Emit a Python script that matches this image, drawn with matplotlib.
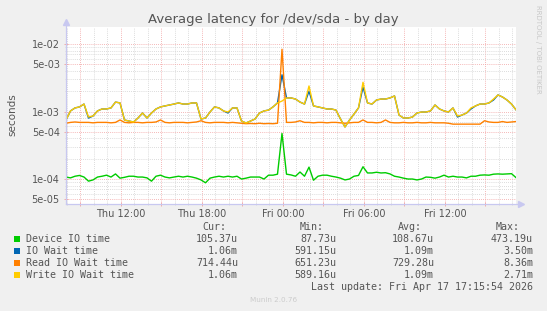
import matplotlib
matplotlib.use('Agg')
import matplotlib.pyplot as plt
import matplotlib.dates as mdates
from matplotlib.ticker import FixedLocator, NullFormatter, FuncFormatter
from matplotlib.patches import Rectangle
from datetime import datetime, timedelta

# ---------------- data ----------------
start = datetime(2026, 4, 16, 7, 55, 54)
end = datetime(2026, 4, 17, 17, 15, 54)
step_min = 20

device_io = [
    1.07e-4, 1.04e-4, 1.10e-4, 1.13e-4, 1.07e-4, 9.3e-5, 9.7e-5, 1.07e-4, 1.10e-4, 1.14e-4,
    1.07e-4, 1.19e-4, 1.03e-4, 1.06e-4, 1.10e-4, 1.10e-4, 1.07e-4, 1.07e-4, 1.04e-4, 9.3e-5,
    1.10e-4, 1.14e-4, 1.07e-4, 1.04e-4, 1.07e-4, 1.10e-4, 1.07e-4, 1.10e-4, 1.07e-4, 1.03e-4,
    9.7e-5, 8.8e-5, 1.03e-4, 1.07e-4, 1.10e-4, 1.07e-4, 1.10e-4, 1.07e-4, 1.10e-4, 1.00e-4,
    1.03e-4, 1.07e-4, 1.07e-4, 1.07e-4, 1.00e-4, 1.14e-4, 1.14e-4, 1.18e-4, 4.73e-4, 1.18e-4,
    1.15e-4, 1.10e-4, 1.27e-4, 1.10e-4, 1.50e-4, 9.6e-5, 1.10e-4, 1.14e-4, 1.14e-4, 1.10e-4,
    1.07e-4, 1.03e-4, 9.7e-5, 1.00e-4, 1.10e-4, 1.13e-4, 1.52e-4, 1.23e-4, 1.23e-4, 1.26e-4,
    1.23e-4, 1.24e-4, 1.19e-4, 1.10e-4, 1.07e-4, 1.03e-4, 1.00e-4, 1.00e-4, 9.7e-5, 1.00e-4,
    1.07e-4, 1.06e-4, 1.03e-4, 1.07e-4, 1.14e-4, 1.07e-4, 1.10e-4, 1.07e-4, 1.07e-4, 1.04e-4,
    1.10e-4, 1.10e-4, 1.14e-4, 1.15e-4, 1.14e-4, 1.18e-4, 1.19e-4, 1.18e-4, 1.19e-4, 1.20e-4,
    1.05e-4,
]

io_wait = [
    7.48e-4, 1.02e-3, 1.13e-3, 1.17e-3, 1.29e-3, 8.00e-4, 8.58e-4, 1.02e-3, 1.09e-3, 1.09e-3,
    1.13e-3, 1.38e-3, 1.34e-3, 7.48e-4, 7.23e-4, 6.99e-4, 8.01e-4, 9.50e-4, 8.01e-4, 9.50e-4,
    1.09e-3, 1.17e-3, 1.21e-3, 1.25e-3, 1.29e-3, 1.34e-3, 1.29e-3, 1.29e-3, 1.34e-3, 1.34e-3,
    7.74e-4, 8.01e-4, 9.83e-4, 1.17e-3, 1.13e-3, 1.02e-3, 9.50e-4, 1.13e-3, 1.13e-3, 7.23e-4,
    6.76e-4, 7.23e-4, 7.74e-4, 9.50e-4, 1.02e-3, 1.05e-3, 1.17e-3, 1.34e-3, 3.50e-3, 1.59e-3,
    1.59e-3, 1.53e-3, 1.38e-3, 1.29e-3, 2.00e-3, 1.21e-3, 1.17e-3, 1.13e-3, 1.09e-3, 1.09e-3,
    1.05e-3, 7.74e-4, 5.91e-4, 7.48e-4, 9.18e-4, 1.13e-3, 2.30e-3, 1.34e-3, 1.29e-3, 1.48e-3,
    1.53e-3, 1.53e-3, 1.59e-3, 1.70e-3, 8.87e-4, 8.01e-4, 8.01e-4, 8.29e-4, 9.50e-4, 9.83e-4,
    9.83e-4, 1.02e-3, 1.25e-3, 1.09e-3, 1.02e-3, 9.83e-4, 1.13e-3, 8.29e-4, 8.87e-4, 9.50e-4,
    1.09e-3, 1.21e-3, 1.29e-3, 1.29e-3, 1.34e-3, 1.48e-3, 1.76e-3, 1.64e-3, 1.48e-3, 1.29e-3,
    1.06e-3,
]

read_io_wait = [
    6.7e-4, 6.9e-4, 7.0e-4, 6.9e-4, 6.9e-4, 6.9e-4, 6.8e-4, 6.9e-4, 6.9e-4, 6.9e-4,
    6.8e-4, 6.9e-4, 7.5e-4, 6.9e-4, 6.8e-4, 6.9e-4, 6.9e-4, 6.8e-4, 6.9e-4, 6.9e-4,
    7.0e-4, 7.5e-4, 6.9e-4, 6.8e-4, 6.9e-4, 6.9e-4, 6.9e-4, 6.8e-4, 6.9e-4, 7.0e-4,
    7.3e-4, 6.9e-4, 6.8e-4, 6.9e-4, 6.9e-4, 6.9e-4, 6.8e-4, 6.9e-4, 6.8e-4, 6.7e-4,
    6.6e-4, 6.65e-4, 6.6e-4, 6.7e-4, 6.6e-4, 6.65e-4, 6.6e-4, 6.7e-4, 8.36e-3, 6.9e-4,
    6.9e-4, 7.0e-4, 7.3e-4, 6.9e-4, 6.9e-4, 6.8e-4, 6.9e-4, 6.9e-4, 6.8e-4, 6.9e-4,
    6.9e-4, 6.8e-4, 6.7e-4, 6.8e-4, 6.9e-4, 6.9e-4, 7.5e-4, 6.9e-4, 6.9e-4, 6.8e-4,
    6.9e-4, 7.5e-4, 6.9e-4, 6.8e-4, 6.8e-4, 6.9e-4, 6.8e-4, 6.8e-4, 6.9e-4, 6.8e-4,
    6.8e-4, 6.9e-4, 6.8e-4, 6.8e-4, 6.8e-4, 6.7e-4, 6.5e-4, 6.5e-4, 6.5e-4, 6.5e-4,
    6.5e-4, 6.5e-4, 6.5e-4, 7.3e-4, 7.0e-4, 6.9e-4, 6.9e-4, 7.1e-4, 6.9e-4, 7.0e-4,
    7.1e-4,
]

write_io_wait = [
    7.48e-4, 1.02e-3, 1.13e-3, 1.17e-3, 1.29e-3, 8.29e-4, 8.58e-4, 1.02e-3, 1.09e-3, 1.09e-3,
    1.13e-3, 1.38e-3, 1.34e-3, 7.48e-4, 7.23e-4, 6.99e-4, 8.01e-4, 9.50e-4, 8.01e-4, 9.50e-4,
    1.09e-3, 1.17e-3, 1.21e-3, 1.25e-3, 1.29e-3, 1.34e-3, 1.29e-3, 1.29e-3, 1.34e-3, 1.34e-3,
    7.74e-4, 8.01e-4, 9.83e-4, 1.17e-3, 1.13e-3, 1.02e-3, 9.83e-4, 1.13e-3, 1.13e-3, 7.23e-4,
    6.76e-4, 7.23e-4, 7.74e-4, 9.50e-4, 1.02e-3, 1.05e-3, 1.17e-3, 1.34e-3, 1.43e-3, 1.59e-3,
    1.59e-3, 1.53e-3, 1.38e-3, 1.29e-3, 2.39e-3, 1.21e-3, 1.17e-3, 1.13e-3, 1.09e-3, 1.09e-3,
    1.05e-3, 7.74e-4, 5.89e-4, 7.48e-4, 9.18e-4, 1.13e-3, 2.71e-3, 1.34e-3, 1.29e-3, 1.48e-3,
    1.53e-3, 1.53e-3, 1.59e-3, 1.70e-3, 8.87e-4, 8.01e-4, 8.01e-4, 8.29e-4, 9.50e-4, 9.83e-4,
    9.83e-4, 1.02e-3, 1.25e-3, 1.09e-3, 1.02e-3, 9.83e-4, 1.13e-3, 8.58e-4, 8.87e-4, 9.50e-4,
    1.13e-3, 1.21e-3, 1.29e-3, 1.29e-3, 1.34e-3, 1.53e-3, 1.76e-3, 1.64e-3, 1.48e-3, 1.29e-3,
    1.06e-3,
]

series_names = ["Device IO time", "IO Wait time", "Read IO Wait time", "Write IO Wait time"]
series_colors = ["#00CC00", "#0066B3", "#FF8000", "#FFCC00"]
cur_vals = ["105.37u", "1.06m", "714.44u", "1.06m"]
min_vals = ["87.73u", "591.15u", "651.23u", "589.16u"]
avg_vals = ["108.67u", "1.09m", "729.28u", "1.09m"]
max_vals = ["473.19u", "3.50m", "8.36m", "2.71m"]
ytick_vals = [5e-5, 1e-4, 5e-4, 1e-3, 5e-3, 1e-2]
ytick_labels = ["5e-05", "1e-04", "5e-04", "1e-03", "5e-03", "1e-02"]

times = [start + timedelta(minutes=step_min * i) for i in range(len(device_io))]

# ---------------- figure ----------------
W, H = 547, 311
fig = plt.figure(figsize=(W / 100, H / 100), dpi=100, facecolor="#F0F0F0")
L, R, T, B = 66, 516, 27.3, 203.5
ax = fig.add_axes([L / W, 1 - B / H, (R - L) / W, (B - T) / H])
ax.set_facecolor("white")
ax.set_yscale("log")
ymin, ymax = 4.34e-5, 1.768e-2
ax.set_ylim(ymin, ymax)
ax.set_xlim(start, end)

grid_red = "#F2A0A0"
grid_gray = "#D0D0D0"
dots = (0, (1, 1.5))

# vertical grid: hourly gray, every 3h red
h = datetime(2026, 4, 16, 8)
while h <= end:
    c = grid_red if h.hour % 3 == 0 else grid_gray
    ax.axvline(h, color=c, lw=0.6, ls=dots, zorder=0)
    h += timedelta(hours=1)

# horizontal grid
for d in range(-5, -1):
    for m in range(1, 10):
        v = m * 10.0 ** d
        if ymin < v < ymax:
            c = grid_red if m in (1, 5) else grid_gray
            ax.axhline(v, color=c, lw=0.6, ls=dots, zorder=0)

for vals, col in zip([device_io, io_wait, read_io_wait, write_io_wait], series_colors):
    ax.plot(times, vals, color=col, lw=1.0, zorder=3)

# axes styling
for s in ["top", "right", "left", "bottom"]:
    ax.spines[s].set_visible(False)
axis_col = "#C8C8F0"
ax.plot([0, 0], [0, 1.02], transform=ax.transAxes, color=axis_col, lw=0.9, clip_on=False, zorder=5)
ax.plot([0, 1.01], [0, 0], transform=ax.transAxes, color=axis_col, lw=0.9, clip_on=False, zorder=5)
ax.plot([0], [1.03], transform=ax.transAxes, marker="^", ms=4, color=axis_col, clip_on=False, zorder=5)
ax.plot([1.012], [0], transform=ax.transAxes, marker=">", ms=4, color=axis_col, clip_on=False, zorder=5)

ax.yaxis.set_major_locator(FixedLocator(ytick_vals))
ax.set_yticklabels(ytick_labels)
ax.yaxis.set_minor_formatter(NullFormatter())
ax.tick_params(axis="y", which="major", length=3, width=0.6, color=grid_red, direction="inout",
               labelsize=7, labelcolor="#555555", pad=3)
ax.tick_params(axis="y", which="minor", length=2, width=0.5, color=grid_gray, direction="inout")

ax.xaxis.set_major_locator(mdates.HourLocator(byhour=range(0, 24, 3)))
ax.xaxis.set_minor_locator(mdates.HourLocator())
def fmt(x, pos):
    dt = mdates.num2date(x)
    return dt.strftime("%a %H:%M") if dt.hour % 6 == 0 else ""
ax.xaxis.set_major_formatter(FuncFormatter(fmt))
ax.tick_params(axis="x", which="major", length=3, width=0.6, color=grid_red, direction="inout",
               labelsize=7, labelcolor="#555555", pad=2.5)
ax.tick_params(axis="x", which="minor", length=2, width=0.5, color=grid_gray, direction="inout")

# texts
fig.text(273.5 / W, 1 - 19 / H, "Average latency for /dev/sda - by day", ha="center", va="center",
         fontsize=9.5, color="#555555")
fig.text(12 / W, 1 - 115 / H, "seconds", rotation=90, ha="center", va="center", fontsize=7.5, color="#555555")
fig.text(538 / W, 1 - 5 / H, "RRDTOOL / TOBI OETIKER", rotation=270, ha="center", va="top",
         fontsize=5, color="#C8C8C8")

mono = "DejaVu Sans Mono"
fs = 7.2
tc = "#555555"
def fy(y):
    return 1 - y / H

for xr, hdr in zip([226, 324, 422, 520], ["Cur:", "Min:", "Avg:", "Max:"]):
    fig.text(xr / W, fy(227), hdr, ha="right", va="center", family=mono, fontsize=fs, color=tc)

rows_y = [239.3, 251.3, 263.3, 275.3]
for i, y in enumerate(rows_y):
    fig.patches.append(Rectangle(((13.5) / W, fy(y + 3)), 6 / W, 6 / H, transform=fig.transFigure,
                                 facecolor=series_colors[i], edgecolor="none"))
    fig.text(26 / W, fy(y), series_names[i], ha="left", va="center", family=mono, fontsize=fs, color=tc)
    for xr, col in zip([238, 336, 434, 533], [cur_vals, min_vals, avg_vals, max_vals]):
        fig.text(xr / W, fy(y), col[i], ha="right", va="center", family=mono, fontsize=fs, color=tc)

fig.text(533 / W, fy(287.3), "Last update: Fri Apr 17 17:15:54 2026", ha="right", va="center",
         family=mono, fontsize=fs, color=tc)
fig.text(273.5 / W, fy(300), "Munin 2.0.76", ha="center", va="center", fontsize=5.2, color="#CCCCCC")

fig.savefig("out.png", dpi=100, facecolor=fig.get_facecolor())
